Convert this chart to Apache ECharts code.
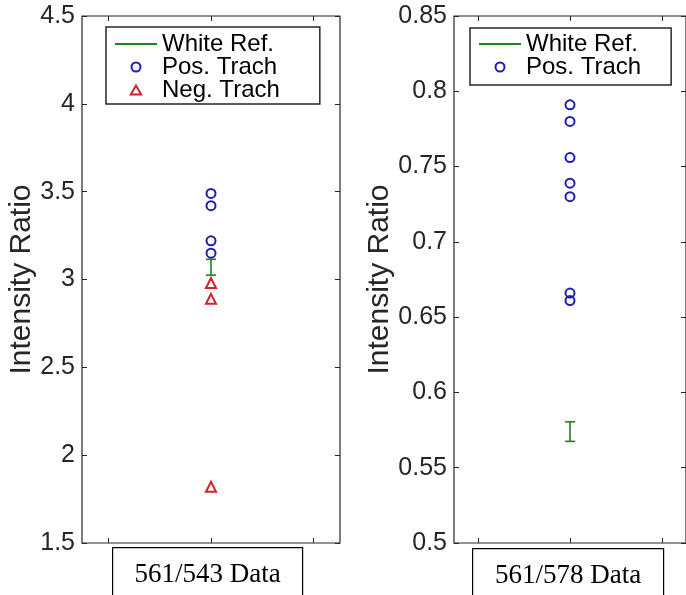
<!DOCTYPE html>
<html>
<head>
<meta charset="utf-8">
<script src="https://cdn.jsdelivr.net/npm/echarts@6/dist/echarts.min.js"></script>
<style>
  html, body { margin: 0; padding: 0; background: #fff; }
  #main { width: 686px; height: 595px; }
</style>
</head>
<body>
<div id="main"></div>
<script>
// values
const datasetNames = ['561/543 Data', '561/578 Data']
const posTrach543 = [3.49, 3.42, 3.22, 3.15]
const negTrach543 = [2.98, 2.89, 1.82]
const posTrach578 = [0.791, 0.780, 0.756, 0.739, 0.730, 0.666, 0.661]
const whiteRefMean = [3.07, 0.574]
const whiteRefErr = [0.045, 0.0065]
const yTicks543 = { min: 1.5, max: 4.5, interval: 0.5 }
const yTicks578 = { min: 0.5, max: 0.85, interval: 0.05 }

const BLUE = '#1f1fae'
const RED = '#d0242c'
const GREEN = '#1a861a'
const AXIS = '#262626'
const SANS = 'Liberation Sans, Arial, sans-serif'

const chart = echarts.init(document.getElementById('main'))

// error bar drawn from the y scale (cap in pixels)
function errorBarSeries(idx, mean, err) {
  return {
    name: 'White Ref.',
    type: 'custom',
    xAxisIndex: idx * 2,
    yAxisIndex: idx * 2,
    itemStyle: { color: GREEN },
    z: 1,
    data: [[0, mean - err, mean + err]],
    renderItem: function (params, api) {
      const lo = api.coord([api.value(0), api.value(1)])
      const hi = api.coord([api.value(0), api.value(2)])
      const cap = 5
      const style = { stroke: GREEN, lineWidth: 1.6, fill: null }
      return {
        type: 'group',
        children: [
          { type: 'line', shape: { x1: lo[0], y1: lo[1], x2: hi[0], y2: hi[1] }, style },
          { type: 'line', shape: { x1: lo[0] - cap, y1: lo[1], x2: lo[0] + cap, y2: lo[1] }, style },
          { type: 'line', shape: { x1: hi[0] - cap, y1: hi[1], x2: hi[0] + cap, y2: hi[1] }, style }
        ]
      }
    }
  }
}

function markerSeries(idx, name, values, symbol, color) {
  return {
    name,
    type: 'scatter',
    xAxisIndex: idx * 2,
    yAxisIndex: idx * 2,
    symbol,
    symbolSize: symbol === 'circle' ? 9 : 10,
    z: 3,
    itemStyle: { color: 'rgba(0,0,0,0)', borderColor: color, borderWidth: 2, opacity: 1 },
    data: values.map((v) => [0, v])
  }
}

function xAxes(gridIndex) {
  const base = {
    type: 'value',
    gridIndex,
    min: -1.26,
    max: 1.26,
    splitLine: { show: false },
    axisLine: { show: false, onZero: false },
    axisLabel: { show: false },
    axisTick: { show: true, inside: true, length: 5, customValues: [-1, 0, 1], lineStyle: { color: AXIS } }
  }
  return [
    Object.assign({}, base, { position: 'bottom' }),
    Object.assign({}, base, { position: 'top' })
  ]
}

function yAxes(gridIndex, ticks, nameGap) {
  const base = {
    type: 'value',
    gridIndex,
    min: ticks.min,
    max: ticks.max,
    interval: ticks.interval,
    splitLine: { show: false },
    axisLine: { show: false, onZero: false },
    axisTick: { show: true, inside: true, length: 5, lineStyle: { color: AXIS } }
  }
  return [
    Object.assign({}, base, {
      position: 'left',
      name: 'Intensity Ratio',
      nameLocation: 'middle',
      nameGap,
      nameTextStyle: { fontFamily: SANS, fontSize: 30, color: AXIS },
      axisLabel: { fontFamily: SANS, fontSize: 25, color: AXIS, margin: 7 }
    }),
    Object.assign({}, base, { position: 'right', axisLabel: { show: false } })
  ]
}

function legendItem(n) {
  if (n === 'White Ref.') {
    return { name: n, icon: 'path://M0,0H42V2.2H0Z', itemStyle: { color: GREEN, borderWidth: 0 } }
  }
  const isPos = n === 'Pos. Trach'
  return {
    name: n,
    icon: isPos ? 'circle' : 'path://M0,8L4.6,0L9.2,8Z',
    itemStyle: { color: 'rgba(0,0,0,0)', borderColor: isPos ? BLUE : RED, borderWidth: 2 }
  }
}

function legendBox(left, top, names, padding) {
  return {
    orient: 'vertical',
    left,
    top,
    itemWidth: 42,
    itemHeight: 9,
    itemGap: -1,
    padding,
    borderColor: AXIS,
    borderWidth: 1.5,
    backgroundColor: '#fff',
    selectedMode: false,
    textStyle: { fontFamily: SANS, fontSize: 24, lineHeight: 21, color: '#000' },
    data: names.map(legendItem)
  }
}

function labelBox(x, y, w, h, text) {
  return {
    type: 'group',
    left: x,
    top: y,
    children: [
      { type: 'rect', shape: { x: 0, y: 0, width: w, height: h }, style: { fill: '#fff', stroke: '#000', lineWidth: 1.2 } },
      {
        type: 'text',
        x: w / 2,
        y: 27,
        style: {
          text,
          font: '27px "Liberation Serif", "Times New Roman", serif',
          fill: '#000',
          align: 'center',
          verticalAlign: 'middle'
        }
      }
    ]
  }
}

const option = {
  animation: false,
  grid: [
    { left: 82, top: 16, width: 258, height: 527, show: true, borderColor: AXIS, borderWidth: 1.2, backgroundColor: '#fff' },
    { left: 454, top: 16, width: 242, height: 527, show: true, borderColor: AXIS, borderWidth: 1.2, backgroundColor: '#fff' }
  ],
  xAxis: [...xAxes(0), ...xAxes(1)],
  yAxis: [...yAxes(0, yTicks543, 36), ...yAxes(1, yTicks578, 50)],
  legend: [
    legendBox(106, 27, ['White Ref.', 'Pos. Trach', 'Neg. Trach'], [5, 40, 2, 9]),
    legendBox(470, 28, ['White Ref.', 'Pos. Trach'], [4, 30, 6, 9])
  ],
  series: [
    errorBarSeries(0, whiteRefMean[0], whiteRefErr[0]),
    markerSeries(0, 'Pos. Trach', posTrach543, 'circle', BLUE),
    markerSeries(0, 'Neg. Trach', negTrach543, 'triangle', RED),
    errorBarSeries(1, whiteRefMean[1], whiteRefErr[1]),
    markerSeries(1, 'Pos. Trach', posTrach578, 'circle', BLUE)
  ],
  graphic: [
    labelBox(112, 547, 190, 60, datasetNames[0]),
    labelBox(472, 548, 191, 60, datasetNames[1])
  ]
}

chart.setOption(option)
</script>
</body>
</html>
